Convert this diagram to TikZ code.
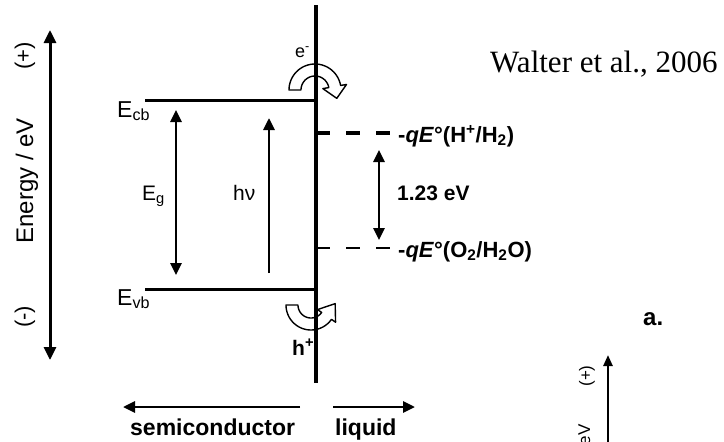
\documentclass[tikz,border=0pt]{standalone}
\usepackage{fontspec}
\setmainfont{Liberation Sans}
\newfontfamily\citefont{Liberation Serif}
\usetikzlibrary{arrows.meta}
% hollow curved arrow: cx cy r halfband a1 a2 headhalfwidth headlength dir(+1/-1)
\newcommand{\hollowarc}[9]{%
  \filldraw[fill=white, draw=black, line width=1.4pt, line join=round]
   plot[domain=#5:#6, samples=40] ({#1+(#3+#4)*cos(\x)},{#2+(#3+#4)*sin(\x)})
   -- ({#1+(#3+#7)*cos(#6)},{#2+(#3+#7)*sin(#6)})
   -- ({#1+#3*cos(#6)+(#9)*#8*(-sin(#6))},{#2+#3*sin(#6)+(#9)*#8*cos(#6)})
   -- ({#1+(#3-#7)*cos(#6)},{#2+(#3-#7)*sin(#6)})
   -- plot[domain=#6:#5, samples=40] ({#1+(#3-#4)*cos(\x)},{#2+(#3-#4)*sin(\x)})
   -- cycle;}
\begin{document}
\begin{tikzpicture}[x=1pt,y=-1pt,
  level/.style={line width=3pt},
  tipA/.tip={Triangle[width=11pt,length=12pt]},
  dbl/.style={line width=2.6pt,tipA-tipA},
  sgl/.style={line width=2.8pt,-tipA},
  lbl/.style={inner sep=0pt, font=\fontsize{21}{25}\selectfont},
  blbl/.style={inner sep=0pt, font=\fontsize{21}{25}\selectfont\bfseries},
]
\useasboundingbox (0,0) rectangle (724,442);
\clip (0,0) rectangle (724,442);

% curved hollow arrows (drawn first, lines pass over them)
\hollowarc{315}{90}{20}{6}{180}{350}{12}{12}{1}
\hollowarc{311}{305}{19}{6}{180}{35}{11}{15}{-1}

% interface
\coordinate (itop) at (316,5);
\coordinate (ibot) at (316,383);
\draw[line width=3.2pt] (itop) -- (ibot);

% band edges
\coordinate (cbL) at (145,100); \coordinate (cbR) at (316,100);
\coordinate (vbL) at (145,289); \coordinate (vbR) at (316,289);
\draw[level] (cbL) -- (cbR);
\draw[level] (vbL) -- (vbR);

% redox levels
\coordinate (hL) at (316,133); \coordinate (hR) at (396,133);
\coordinate (oL) at (316,248); \coordinate (oR) at (396,248);
\draw[line width=3.4pt, dash pattern=on 14pt off 16pt] (hL) -- (hR);
\draw[line width=2.4pt, dash pattern=on 14pt off 16pt] (oL) -- (oR);

% arrows
\coordinate (enT) at (50,30); \coordinate (enB) at (50,360);
\draw[line width=3pt,{Triangle[width=12pt,length=13pt]}-{Triangle[width=12pt,length=13pt]}] (enT) -- (enB);
\coordinate (egT) at (176,110); \coordinate (egB) at (176,275);
\draw[dbl] (egT) -- (egB);
\coordinate (hvB) at (269,273); \coordinate (hvT) at (269,118);
\draw[sgl] (hvB) -- (hvT);
\coordinate (wT) at (379,150); \coordinate (wB) at (379,240);
\draw[dbl] (wT) -- (wB);
\coordinate (scR) at (300,407); \coordinate (scL) at (123,407);
\draw[sgl] (scR) -- (scL);
\coordinate (lqL) at (333,407); \coordinate (lqR) at (415,407);
\draw[sgl] (lqL) -- (lqR);
\coordinate (axB) at (608,450); \coordinate (axT) at (608,355);
\draw[line width=2.4pt,-{Triangle[width=9pt,length=11pt]}] (axB) -- (axT);

% labels
\node[lbl, font=\fontsize{24}{28}\selectfont, rotate=90, anchor=base east] (energy) at (33,118) {Energy / eV};
\node[lbl, font=\fontsize{22}{26}\selectfont, rotate=90] (plus) at (25,56) {(+)};
\node[lbl, font=\fontsize{22}{26}\selectfont, rotate=90] (minus) at (25,317) {(-)};
\node[lbl, font=\fontsize{23}{27}\selectfont, anchor=base west] (ecb) at (117,117) {E\textsubscript{cb}};
\node[lbl, font=\fontsize{23}{27}\selectfont, anchor=base west] (evb) at (117,305) {E\textsubscript{vb}};
\node[lbl, anchor=base west] (eg) at (142,200) {E\textsubscript{g}};
\node[lbl, anchor=base west] (hnu) at (233,200) {hν};
\node[lbl, font=\fontsize{18}{22}\selectfont, anchor=base west] (elec) at (295,57) {e\textsuperscript{-}};
\node[blbl, anchor=base west] (hole) at (292,355) {h\textsuperscript{+}};
\node[blbl, font=\fontsize{22}{26}\selectfont\bfseries, anchor=base west] (hlev) at (398,142) {-\textit{qE}°(H\textsuperscript{+}/H\textsubscript{2})};
\node[blbl, font=\fontsize{22}{26}\selectfont\bfseries, anchor=base west] (olev) at (398,257) {-\textit{qE}°(O\textsubscript{2}/H\textsubscript{2}O)};
\node[blbl, anchor=base west] (gap) at (397,200) {1.23 eV};
\node[blbl, font=\fontsize{23}{27}\selectfont\bfseries, anchor=base west] (sc) at (130,435) {semiconductor};
\node[blbl, font=\fontsize{23}{27}\selectfont\bfseries, anchor=base west] (liq) at (335,435) {liquid};
\node[inner sep=0pt, font=\fontsize{31}{36}\selectfont\citefont, anchor=base west] (cite) at (490,72) {Walter et al., 2006};
\node[blbl, font=\fontsize{24}{28}\selectfont\bfseries, anchor=base west] (panel) at (643,325) {a.};
\node[lbl, font=\fontsize{17}{20}\selectfont, rotate=90, anchor=base east] (energy2) at (590,424) {Energy / eV};
\node[lbl, font=\fontsize{17}{20}\selectfont, rotate=90] (plus2) at (587,376) {(+)};
\end{tikzpicture}
\end{document}
